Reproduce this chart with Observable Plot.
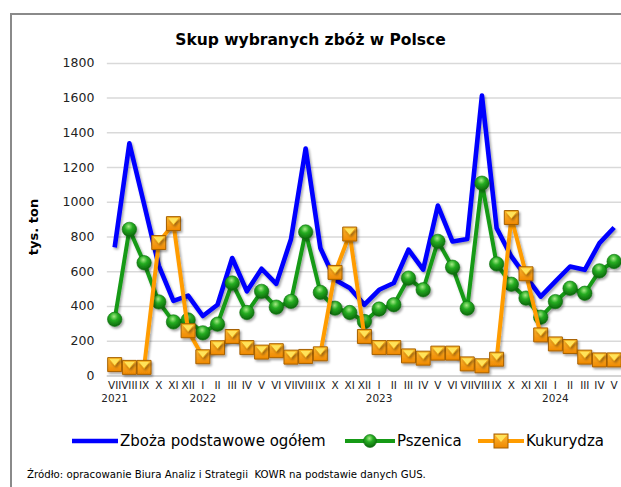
<!DOCTYPE html>
<html>
<head>
<meta charset="utf-8">
<script src="https://cdn.jsdelivr.net/npm/d3@7"></script>
<script src="https://cdn.jsdelivr.net/npm/@observablehq/plot@0.6"></script>
<style>
  html, body { margin: 0; padding: 0; width: 621px; height: 487px; overflow: hidden; background: #fff; font-family: "DejaVu Sans", Verdana, sans-serif; }
  #frame { position: absolute; left: 10px; top: 13px; width: 700px; height: 600px; border: 2px solid #8a8a8a; box-sizing: border-box; }
  #chart { position: absolute; left: 0; top: 0; }
  #title { position: absolute; left: 0; width: 621px; top: 31px; text-align: center; font-weight: bold; font-size: 15.5px; color: #000; }
  #ylabel { position: absolute; left: 33px; top: 227px; transform: translate(-50%, -50%) rotate(-90deg); font-weight: bold; font-size: 13px; white-space: nowrap; color: #000; }
  .leg { position: absolute; top: 431px; height: 20px; display: flex; align-items: center; font-size: 15px; color: #000; white-space: nowrap; }
  .leg svg { display: block; }
  #source { position: absolute; left: 27px; top: 469px; font-size: 10.2px; color: #000; white-space: pre; }
</style>
</head>
<body>
<div id="frame"></div>
<div id="chart"></div>
<div id="title"></div>
<div id="ylabel"></div>
<div id="legend"></div>
<div id="source"></div>
<script>
// ---- data ----
const months = ["VII","VIII","IX","X","XI","XII",
  "I","II","III","IV","V","VI","VII","VIII","IX","X","XI","XII",
  "I","II","III","IV","V","VI","VII","VIII","IX","X","XI","XII",
  "I","II","III","IV","V"];
const yearLabels = ["2021","2022","2023","2024"];
const total = [740,1340,990,635,432,462,345,410,679,487,617,530,
  787,1310,737,554,506,410,496,535,727,612,981,774,
  788,1615,851,688,572,457,544,630,611,765,855];
const wheat = [326,844,652,426,311,322,248,298,535,365,487,396,
  429,829,481,390,365,313,385,410,563,496,775,626,
  390,1110,645,528,448,338,428,505,476,605,659];
const maize = [65,49,49,768,877,260,110,162,227,163,137,145,
  108,112,127,596,817,227,163,163,115,102,131,131,
  69,58,96,912,588,236,184,169,108,92,92];
const yTicks = [0,200,400,600,800,1000,1200,1400,1600,1800];
const seriesNames = ["Zboża podstawowe ogółem","Pszenica","Kukurydza"];
const titleText = "Skup wybranych zbóż w Polsce";
const yLabelText = "tys. ton";
const sourceText = "Źródło: opracowanie Biura Analiz i Strategii  KOWR na podstawie danych GUS.";

// ---- derived ----
const rows = months.map((m, i) => ({i, m, total: total[i], wheat: wheat[i], maize: maize[i]}));
const yearIdx = [0, ...months.map((m, i) => m === "I" ? i : -1).filter(i => i > 0)];

const BLUE = "#0000ff", GREEN = "#169a16", ORANGE = "#ff9c00";

const flap = {
  draw(context, size) {
    const h = Math.sqrt(size) / 2;
    context.moveTo(-h + 1, -h + 1);
    context.lineTo(h - 1, -h + 1);
    context.lineTo(0, h * 0.15);
    context.closePath();
  }
};

const plot = Plot.plot({
  width: 622,
  height: 420,
  marginLeft: 107,
  marginRight: 0,
  marginTop: 63,
  marginBottom: 44,
  x: {type: "linear", domain: [-0.5, months.length - 0.5], axis: null},
  y: {domain: [0, 1800], axis: null},
  style: {fontFamily: "DejaVu Sans, Verdana, sans-serif", background: "transparent", overflow: "visible"},
  marks: [
    Plot.gridY(yTicks, {stroke: "#d9d9d9", strokeOpacity: 1, strokeWidth: 1.5}),
    Plot.axisY({ticks: yTicks, tickFormat: d => String(d), tickSize: 0, tickPadding: 13, fontSize: 12.5, fill: "#222", label: null}),
    Plot.ruleY([0], {stroke: "#cfcfcf", strokeWidth: 1.5}),
    Plot.axisX({ticks: d3.range(months.length), tickFormat: i => months[i], tickSize: 0, tickPadding: 6, fontSize: 10.5, fill: "#222", label: null}),
    Plot.axisX({ticks: yearIdx, tickFormat: i => yearLabels[yearIdx.indexOf(i)], tickSize: 0, tickPadding: 18.5, fontSize: 10.5, fill: "#222", label: null}),
    Plot.line(rows, {x: "i", y: "total", stroke: BLUE, strokeWidth: 4.6, strokeLinejoin: "round", strokeLinecap: "butt"}),
    Plot.line(rows, {x: "i", y: "wheat", stroke: GREEN, strokeWidth: 4, strokeLinejoin: "round"}),
    Plot.dot(rows, {x: "i", y: "wheat", r: 7.2, fill: "url(#gg)", stroke: "#0d6e0d", strokeWidth: 0.6}),
    Plot.line(rows, {x: "i", y: "maize", stroke: ORANGE, strokeWidth: 4, strokeLinejoin: "round"}),
    Plot.dot(rows, {x: "i", y: "maize", symbol: "square", r: 7.9, fill: "url(#og)", stroke: "#a55f00", strokeWidth: 1}),
    Plot.dot(rows, {x: "i", y: "maize", symbol: flap, r: 7.9, fill: "#ffe35a", stroke: "#e89a00", strokeWidth: 0.5})
  ]
});

const defs = `
<defs>
  <filter id="sh" x="-50%" y="-50%" width="200%" height="200%">
    <feDropShadow dx="1.5" dy="2" stdDeviation="1.2" flood-color="#000" flood-opacity="0.35"/>
  </filter>
  <radialGradient id="gg" cx="45%" cy="30%" r="70%">
    <stop offset="0" stop-color="#a6ea86"/>
    <stop offset="0.4" stop-color="#26ad22"/>
    <stop offset="1" stop-color="#0a660a"/>
  </radialGradient>
  <linearGradient id="og" x1="0" y1="0" x2="0" y2="1">
    <stop offset="0" stop-color="#ffb833"/>
    <stop offset="1" stop-color="#ee8800"/>
  </linearGradient>
</defs>`;
plot.insertAdjacentHTML("afterbegin", defs);
plot.querySelectorAll('g[aria-label="line"], g[aria-label="dot"]').forEach(g => g.setAttribute("filter", "url(#sh)"));
document.getElementById("chart").appendChild(plot);

document.getElementById("title").textContent = titleText;
document.getElementById("ylabel").textContent = yLabelText;
document.getElementById("source").textContent = sourceText;

// legend
const legend = document.getElementById("legend");
const swatches = [
  `<svg width="46" height="20"><line x1="0" x2="46" y1="10" y2="10" stroke="${BLUE}" stroke-width="4.6"/></svg>`,
  `<svg width="50" height="20" style="overflow:visible"><line x1="0" x2="50" y1="10" y2="10" stroke="${GREEN}" stroke-width="4"/><circle cx="25" cy="10" r="6.5" fill="url(#gg)" stroke="#0d6e0d" stroke-width="0.6"/></svg>`,
  `<svg width="46" height="20" style="overflow:visible"><line x1="0" x2="46" y1="10" y2="10" stroke="${ORANGE}" stroke-width="4"/><rect x="16" y="3" width="14" height="14" fill="url(#og)" stroke="#a55f00"/><path d="M17,4 L29,4 L23,11 Z" fill="#ffe35a"/></svg>`
];
const legLeft = [72, 345, 478];
seriesNames.forEach((name, k) => {
  const d = document.createElement("div");
  d.className = "leg";
  d.style.left = legLeft[k] + "px";
  d.innerHTML = swatches[k] + `<span style="margin-left:2px">${name}</span>`;
  legend.appendChild(d);
});
</script>
</body>
</html>
